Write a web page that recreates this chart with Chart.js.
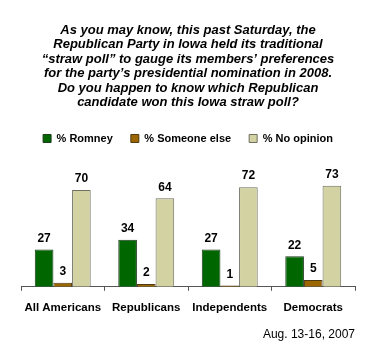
<!DOCTYPE html>
<html>
<head>
<meta charset="utf-8">
<script src="https://cdn.jsdelivr.net/npm/chart.js@4"></script>
<style>
  html, body { margin: 0; padding: 0; background: #fff; }
  #wrap { width: 365px; height: 347px; }
</style>
</head>
<body>
<div id="wrap"><canvas id="chart" width="365" height="347"></canvas></div>
<script>
const groups = ["All Americans", "Republicans", "Independents", "Democrats"];
const seriesNames = ["% Romney", "% Someone else", "% No opinion"];
const romney = [27, 34, 27, 22];
const someoneElse = [3, 2, 1, 5];
const noOpinion = [70, 64, 72, 73];

const titleLines = [
    "As you may know, this past Saturday, the",
    "Republican Party in Iowa held its traditional",
    "\u201Cstraw poll\u201D to gauge its members\u2019 preferences",
    "for the party\u2019s presidential nomination in 2008.",
    "Do you happen to know which Republican",
    "candidate won this Iowa straw poll?",
];
const dateNote = "Aug. 13-16, 2007";

const FONT = "'Liberation Sans', Arial, sans-serif";

// numbers over each bar
const valueLabels = {
    id: "valueLabels",
    afterDatasetsDraw(chart) {
        const ctx = chart.ctx;
        ctx.save();
        ctx.font = "bold 12px " + FONT;
        ctx.fillStyle = "#000";
        ctx.textAlign = "center";
        ctx.textBaseline = "bottom";
        chart.data.datasets.forEach((ds, i) => {
            chart.getDatasetMeta(i).data.forEach((bar, j) => {
                ctx.fillText(String(ds.data[j]), bar.x, bar.y - 5);
            });
        });
        ctx.restore();
    },
};

new Chart(document.getElementById("chart").getContext("2d"), {
    type: "bar",
    data: {
        labels: groups,
        datasets: [
            { label: seriesNames[0], data: romney, backgroundColor: "#006600", borderColor: "#1e3a1e" },
            { label: seriesNames[1], data: someoneElse, backgroundColor: "#9c6600", borderColor: "#4d3a10" },
            { label: seriesNames[2], data: noOpinion, backgroundColor: "#d3d2a3", borderColor: "#6e6e62" },
        ].map((d) => Object.assign(d, { borderWidth: 1, categoryPercentage: 0.67, barPercentage: 1 })),
    },
    options: {
        responsive: false,
        animation: false,
        layout: { padding: { left: 21, right: 10, top: 0, bottom: 5 } },
        plugins: {
            title: {
                display: true,
                text: titleLines,
                color: "#000",
                font: { family: FONT, size: 13, weight: "bold", style: "italic", lineHeight: 1.115 },
                padding: { top: 23, bottom: 5 },
            },
            subtitle: {
                display: true,
                position: "bottom",
                align: "end",
                text: dateNote,
                color: "#000",
                font: { family: FONT, size: 12 },
                padding: { top: 3, bottom: 0 },
            },
            legend: {
                position: "top",
                labels: {
                    color: "#000",
                    boxWidth: 8,
                    boxHeight: 8,
                    padding: 18,
                    font: { family: FONT, size: 11, weight: "bold" },
                },
            },
            tooltip: { enabled: false },
        },
        scales: {
            x: {
                border: { color: "#555", width: 1 },
                grid: { display: true, drawOnChartArea: false, drawTicks: true, tickLength: 4, color: "#555", offset: true },
                ticks: { color: "#000", padding: 10, font: { family: FONT, size: 11.5, weight: "bold" } },
            },
            y: { display: false, min: 0, max: 96 },
        },
    },
    plugins: [valueLabels],
});
</script>
</body>
</html>
